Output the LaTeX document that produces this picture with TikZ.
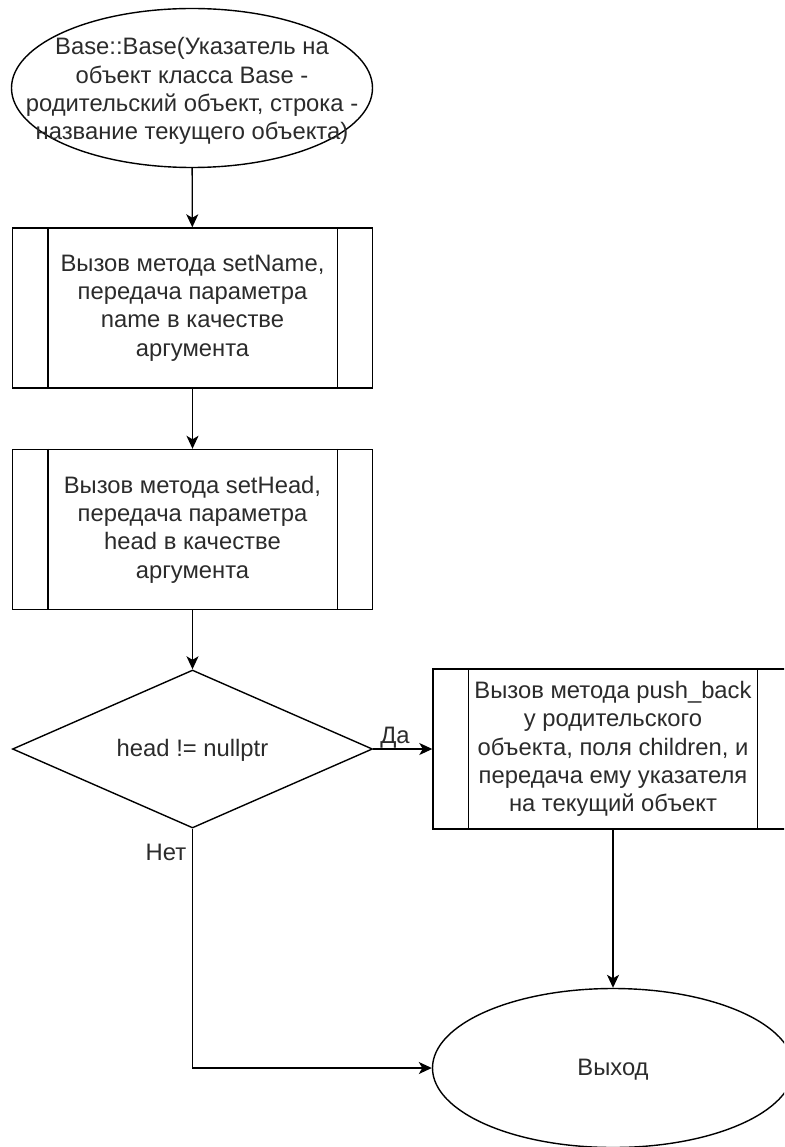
\documentclass[tikz,border=0pt]{standalone}
\usepackage{fontspec}
\setmainfont{Liberation Sans}
\usetikzlibrary{shapes.geometric,arrows.meta}
\definecolor{ink}{HTML}{2B2B2B}
\begin{document}
\begin{tikzpicture}[x=1pt,y=-1pt,
  txt/.style={font=\fontsize{23.8}{28.3}\selectfont, text=ink, align=center},
  shapeline/.style={draw=black, line width=1.4pt},
  terminal/.style={shapeline, ellipse, minimum width=361pt, minimum height=159pt, inner sep=0pt},
  procbox/.style={shapeline, rectangle, minimum width=360pt, minimum height=160pt, inner sep=0pt, txt},
  decision/.style={shapeline, diamond, minimum width=360pt, minimum height=158pt, inner sep=0pt},
  flow/.style={line width=1.4pt, -{Stealth[length=13pt,width=12pt,inset=3.5pt]}},
  edgelabel/.style={txt, inner sep=0pt}]
\useasboundingbox (0,0) rectangle (784,1147);
\clip (0,0) rectangle (784,1147);

% start terminal
\node[terminal] (start) at (192,88) {};
\node[txt] at (192,91) {Base::Base(Указатель на\\объект класса Base -\\родительский объект, строка -\\название текущего объекта)};

% predefined-process blocks
\node[procbox] (setname) at (192.5,308) {Вызов метода setName,\\передача параметра\\name в качестве\\аргумента};
\node[procbox] (sethead) at (192.5,529.5) {Вызов метода setHead,\\передача параметра\\head в качестве\\аргумента};

% decision
\node[decision] (check) at (192.5,749) {};
\node[txt] at (192.5,750) {head != nullptr};

\node[procbox] (pushback) at (613,749) {Вызов метода push\_back\\у родительского\\объекта, поля children, и\\передача ему указателя\\на текущий объект};

% end terminal
\node[terminal] (finish) at (613,1068) {};
\node[txt] at (613,1070) {Выход};

% side bars of the predefined-process blocks
\foreach \b in {setname,sethead,pushback}{
  \draw[shapeline] ([xshift=36pt]\b.north west) -- ([xshift=36pt]\b.south west);
  \draw[shapeline] ([xshift=-36pt]\b.north east) -- ([xshift=-36pt]\b.south east);
}

% connectors
\draw[flow] (start) -- (setname);
\draw[flow] (setname) -- (sethead);
\draw[flow] (sethead) -- (check);
\draw[flow] (check.east) -- (pushback.west);
\draw[flow] (pushback) -- (finish);
\draw[flow] (check.south) |- (finish.west);

% branch labels
\node[edgelabel] at (395,738) {Да};
\node[edgelabel] at (166,852) {Нет};
\end{tikzpicture}
\end{document}
